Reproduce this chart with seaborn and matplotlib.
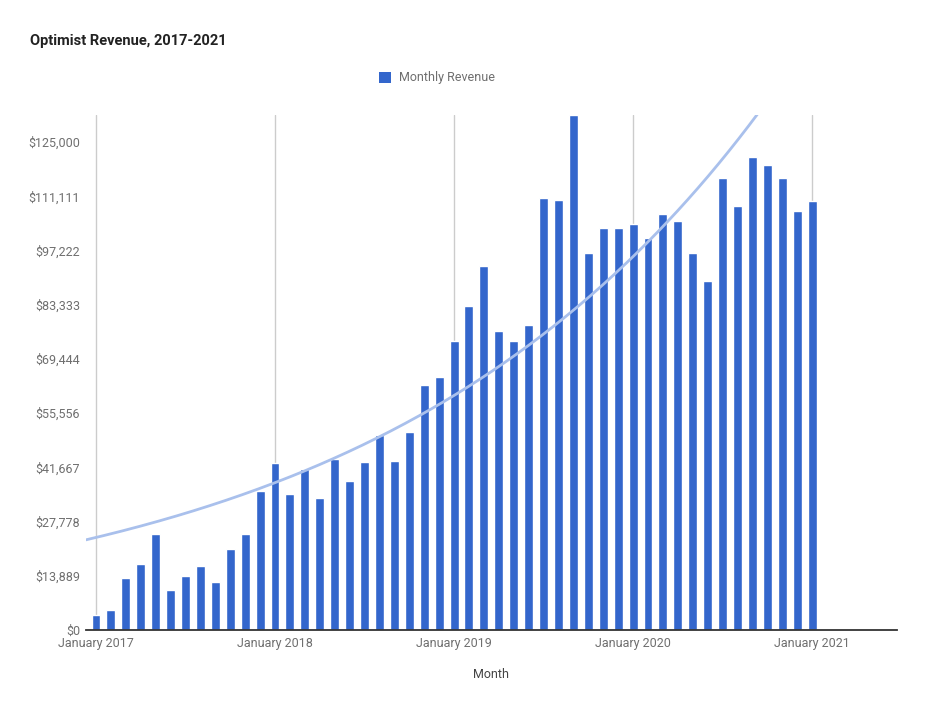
import numpy as np
import pandas as pd
import matplotlib
matplotlib.use("Agg")
import matplotlib.pyplot as plt
from matplotlib.patches import Patch
import seaborn as sns

# ---- data ----
month_index = list(range(49))  # Jan 2017 .. Jan 2021
revenue = [3800, 5000, 13200, 16900, 24600, 10300, 13800, 16400, 12300, 20700,
           24600, 35600, 42800, 34800, 41200, 33800, 43800, 38200, 43000, 50000,
           43300, 50700, 62800, 64800, 74000, 83000, 93200, 76600, 74000, 78100,
           110700, 110200, 131900, 96600, 103000, 103000, 104000, 100400, 106600, 104800,
           96600, 89400, 115800, 108600, 121200, 119100, 115800, 107300, 109900]
year_ticks = [0, 12, 24, 36, 48]
year_labels = ["January 2017", "January 2018", "January 2019", "January 2020", "January 2021"]
y_ticks = [i * 125000 / 9 for i in range(10)]
title = "Optimist Revenue, 2017-2021"
series_name = "Monthly Revenue"

df = pd.DataFrame({"idx": month_index, "rev": revenue})

sns.set_style("white")
plt.rcParams["font.family"] = ["Roboto", "DejaVu Sans"]

fig = plt.figure(figsize=(9.29, 7.07), dpi=100)
ax = fig.add_axes([86 / 929, 77 / 707, (896.7 - 86) / 929, 515 / 707])

bar_color = "#3366CC"
sns.barplot(data=df, x="idx", y="rev", native_scale=True, width=0.6,
            color=bar_color, saturation=1, ax=ax, zorder=3)

# exponential trendline fitted to the data
x_arr = df["idx"].to_numpy(dtype=float)
y_arr = df["rev"].to_numpy(dtype=float)
coef = np.polyfit(x_arr, np.log(y_arr), 1, w=np.sqrt(y_arr))
xs = np.linspace(-0.7, 53.7, 400)
ax.plot(xs, np.exp(np.polyval(coef, xs)), color="#A9C0EC", lw=2, zorder=4)

ax.set_xlim(-0.67, 53.67)
ax.set_ylim(0, max(revenue))

for x in year_ticks:
    ax.axvline(x, color="#CCCCCC", lw=1, zorder=1)

ax.set_xticks(year_ticks)
ax.set_xticklabels(year_labels)
ax.set_yticks(y_ticks)
ax.set_yticklabels(["${:,.0f}".format(v) for v in y_ticks])
ax.tick_params(axis="both", length=0, labelsize=9, labelcolor="#6F6F6F")
ax.tick_params(axis="y", pad=4.3)
ax.tick_params(axis="x", pad=5.2)

for s in ["left", "right", "top"]:
    ax.spines[s].set_visible(False)
ax.spines["bottom"].set_color("#333333")
ax.spines["bottom"].set_linewidth(1.3)
ax.spines["bottom"].set_zorder(5)

ax.set_xlabel("Month", fontsize=9, color="#444444", labelpad=12.5)
ax.set_ylabel("")

fig.text(30 / 929, 1 - 41 / 707, title, fontsize=10.5, fontweight="bold",
         color="#222222", va="center", ha="left")

leg = ax.legend(handles=[Patch(facecolor=bar_color, edgecolor="none", label=series_name)],
                loc="center", bbox_to_anchor=((437 - 86) / 810.7, (630 - 78) / 515),
                frameon=False, fontsize=9, handlelength=0.95, handleheight=0.95,
                handletextpad=0.65)
for t in leg.get_texts():
    t.set_color("#6F6F6F")

fig.savefig("out.png", dpi=100, facecolor="white")
